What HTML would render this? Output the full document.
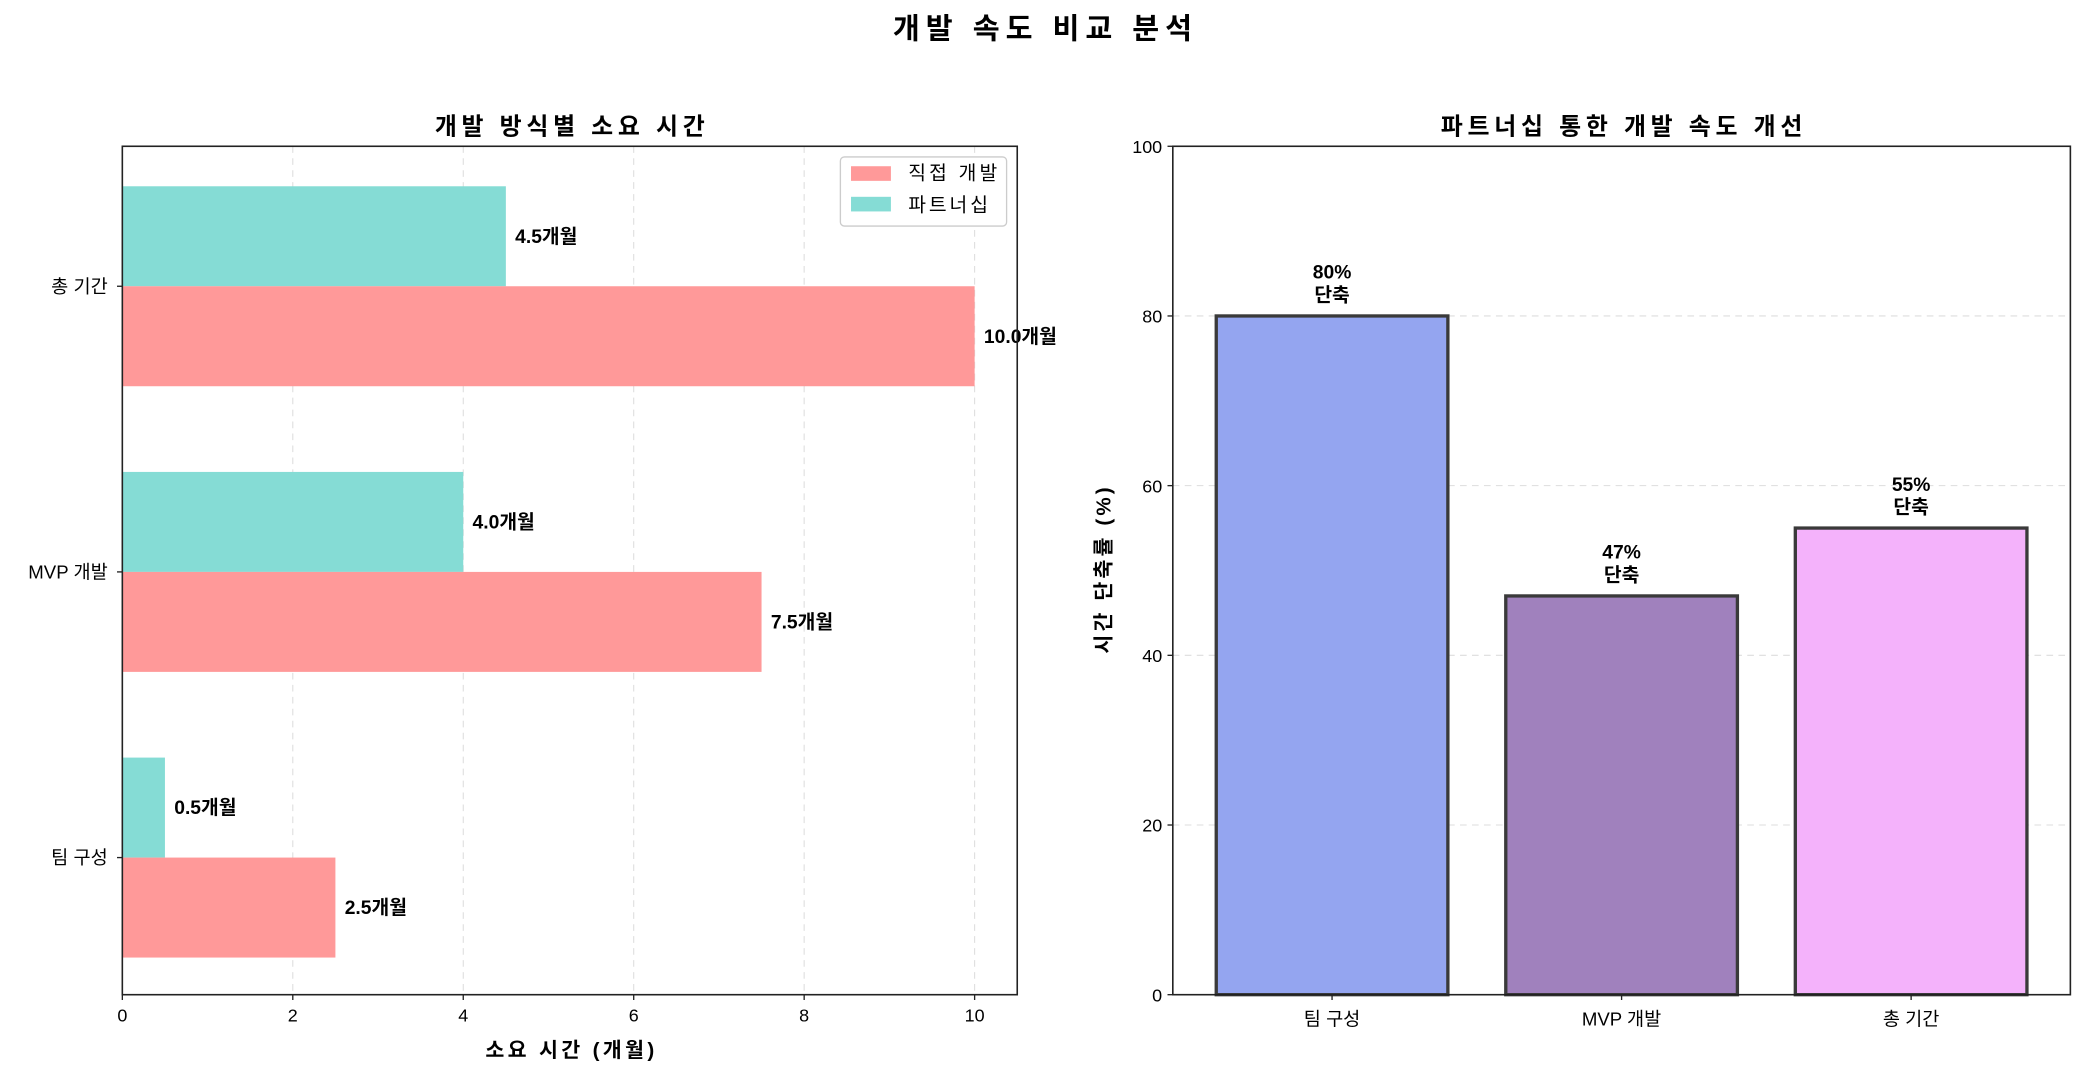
<!DOCTYPE html>
<html><head><meta charset="utf-8">
<style>
html,body{margin:0;padding:0;background:#fff;}
svg{display:block;font-family:"Liberation Sans","Noto Sans CJK KR",sans-serif;}
</style></head>
<body>
<svg id="chart" width="2085" height="1079" viewBox="0 0 1568 811.4" preserveAspectRatio="none" xmlns="http://www.w3.org/2000/svg">
<rect width="1568" height="811.4" fill="#fff"/>
<text x="784" y="29" text-anchor="middle" font-size="22" font-weight="bold" textLength="225" lengthAdjust="spacing">개발 속도 비교 분석</text>
<g id="left"></g>
<g id="right"></g>
</svg>
<script>
const categories = ['팀 구성', 'MVP 개발', '총 기간'];
const directValues = [2.5, 7.5, 10.0];
const partnerValues = [0.5, 4.0, 4.5];
const xTicks = [0, 2, 4, 6, 8, 10];
const reductionValues = [80, 47, 55];
const yTicks = [0, 20, 40, 60, 80, 100];
const barColors = ['#94a5f0', '#a081bd', '#f4b2fb'];

const NS = 'http://www.w3.org/2000/svg';
function mk(parent, tag, attrs, text) {
  const e = document.createElementNS(NS, tag);
  for (const k in attrs) e.setAttribute(k, attrs[k]);
  if (text !== undefined) e.textContent = text;
  parent.appendChild(e);
  return e;
}

// ---- Left chart ----
const L = document.getElementById('left');
const lx0 = 92, lx1 = 765, ly0 = 110, ly1 = 748;
const xMin = 0, xMax = 10.5, yMinL = -0.48, yMaxL = 2.49;
const lx = v => lx0 + (v - xMin) / (xMax - xMin) * (lx1 - lx0);
const ly = v => ly1 - (v - yMinL) / (yMaxL - yMinL) * (ly1 - ly0);
const bh = 0.35;

xTicks.forEach(t => {
  const g = mk(L, 'line', {x1: lx(t), x2: lx(t), y1: ly0, y2: ly1, stroke: '#ddd', 'stroke-dasharray': '5,4', 'stroke-width': 0.8});
  
  
  const tk = mk(L, 'line', {x1: lx(t), x2: lx(t), y1: ly1, y2: ly1 + 4, stroke: '#222', 'stroke-width': 1});
  
  
  const lb = mk(L, 'text', {x: lx(t), y: ly1 + 20, 'text-anchor': 'middle', 'font-size': 13.5}, String(t));
  
  
});

categories.forEach((c, i) => {
  const p = mk(L, 'rect', {x: lx(0), y: ly(i + bh), width: lx(partnerValues[i]) - lx(0), height: ly(i) - ly(i + bh), fill: '#85dcd5'});
  
  
  const d = mk(L, 'rect', {x: lx(0), y: ly(i), width: lx(directValues[i]) - lx(0), height: ly(i - bh) - ly(i), fill: '#ff9999'});
  
  
  const pl = mk(L, 'text', {x: lx(partnerValues[i]) + 7, y: ly(i + bh / 2) + 5, 'font-size': 14.5, 'font-weight': 'bold'}, partnerValues[i].toFixed(1) + '개월');
  
  
  const dl = mk(L, 'text', {x: lx(directValues[i]) + 7, y: ly(i - bh / 2) + 5, 'font-size': 14.5, 'font-weight': 'bold'}, directValues[i].toFixed(1) + '개월');
  
  
  const tk = mk(L, 'line', {x1: lx0 - 4, x2: lx0, y1: ly(i), y2: ly(i), stroke: '#222', 'stroke-width': 1});
  
  
  const cl = mk(L, 'text', {x: lx0 - 11, y: ly(i) + 5, 'text-anchor': 'end', 'font-size': 14}, c);
  
  
});
const lf = mk(L, 'rect', {x: lx0, y: ly0, width: lx1 - lx0, height: ly1 - ly0, fill: 'none', stroke: '#222', 'stroke-width': 1.2});


const lt = mk(L, 'text', {x: (lx0 + lx1) / 2, y: 101, 'text-anchor': 'middle', 'font-size': 18, 'font-weight': 'bold', textLength: 203, lengthAdjust: 'spacing'}, '개발 방식별 소요 시간');


const lxl = mk(L, 'text', {x: (lx0 + lx1) / 2, y: 795, 'text-anchor': 'middle', 'font-size': 15.5, 'font-weight': 'bold', textLength: 127, lengthAdjust: 'spacing'}, '소요 시간 (개월)');



// legend
const lg = mk(L, 'g', {});


mk(lg, 'rect', {x: 632, y: 118, width: 125, height: 52, rx: 3, fill: '#fff', stroke: '#ccc', 'stroke-width': 1});
const le1 = mk(lg, 'g', {});


mk(le1, 'rect', {x: 640, y: 125, width: 30, height: 11, fill: '#ff9999'});
mk(le1, 'text', {x: 683, y: 135, 'font-size': 14.5, textLength: 67, lengthAdjust: 'spacing'}, '직접 개발');
const le2 = mk(lg, 'g', {});


mk(le2, 'rect', {x: 640, y: 148, width: 30, height: 11, fill: '#85dcd5'});
mk(le2, 'text', {x: 683, y: 159, 'font-size': 14.5, textLength: 60, lengthAdjust: 'spacing'}, '파트너십');

// ---- Right chart ----
const R = document.getElementById('right');
const rx0 = 882, rx1 = 1557, ry0 = 110, ry1 = 748;
const cxMin = -0.55, cxMax = 2.55, yMin = 0, yMax = 100;
const rx = v => rx0 + (v - cxMin) / (cxMax - cxMin) * (rx1 - rx0);
const ry = v => ry1 - (v - yMin) / (yMax - yMin) * (ry1 - ry0);
const bw = 0.8;

yTicks.forEach(t => {
  if (t > 0 && t < 100) {
    const g = mk(R, 'line', {x1: rx0, x2: rx1, y1: ry(t), y2: ry(t), stroke: '#ddd', 'stroke-dasharray': '5,4', 'stroke-width': 0.8});
    
    
  }
  const tk = mk(R, 'line', {x1: rx0 - 4, x2: rx0, y1: ry(t), y2: ry(t), stroke: '#222', 'stroke-width': 1});
  
  
  const lb = mk(R, 'text', {x: rx0 - 8, y: ry(t) + 5, 'text-anchor': 'end', 'font-size': 13.5}, String(t));
  
  
});

categories.forEach((c, i) => {
  const v = reductionValues[i];
  const b = mk(R, 'rect', {x: rx(i - bw / 2), y: ry(v), width: rx(i + bw / 2) - rx(i - bw / 2), height: ry(0) - ry(v), fill: barColors[i], stroke: '#3a3a3a', 'stroke-width': 2.5});
  
  
  const t1 = mk(R, 'text', {x: rx(i), y: ry(v) - 28, 'text-anchor': 'middle', 'font-size': 14.5, 'font-weight': 'bold'}, v + '%');
  
  
  const t2 = mk(R, 'text', {x: rx(i), y: ry(v) - 11, 'text-anchor': 'middle', 'font-size': 14.5, 'font-weight': 'bold'}, '단축');
  
  
  const tk = mk(R, 'line', {x1: rx(i), x2: rx(i), y1: ry1, y2: ry1 + 4, stroke: '#222', 'stroke-width': 1});
  
  
  const cl = mk(R, 'text', {x: rx(i), y: ry1 + 23, 'text-anchor': 'middle', 'font-size': 14}, c);
  
  
});
const rf = mk(R, 'rect', {x: rx0, y: ry0, width: rx1 - rx0, height: ry1 - ry0, fill: 'none', stroke: '#222', 'stroke-width': 1.2});


const rt = mk(R, 'text', {x: (rx0 + rx1) / 2, y: 101, 'text-anchor': 'middle', 'font-size': 18, 'font-weight': 'bold', textLength: 272, lengthAdjust: 'spacing'}, '파트너십 통한 개발 속도 개선');


const ryl = mk(R, 'text', {x: 0, y: 0, 'text-anchor': 'middle', 'font-size': 15.5, 'font-weight': 'bold', textLength: 125, lengthAdjust: 'spacing', transform: 'translate(835,429) rotate(-90)'}, '시간 단축률 (%)');


</script>
</body></html>
